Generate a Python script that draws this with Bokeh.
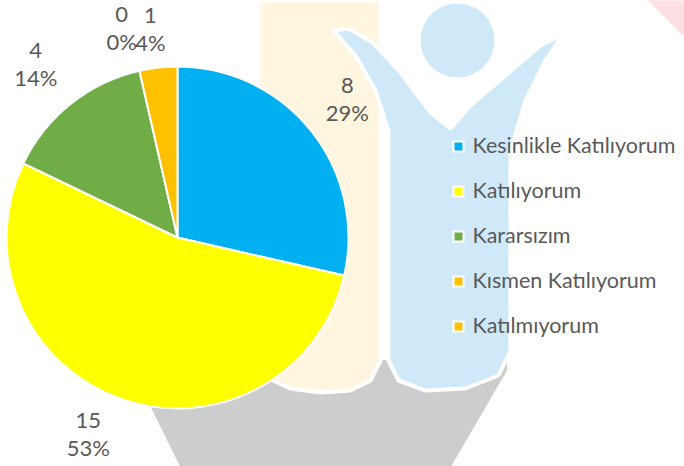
import math
from bokeh.plotting import figure
from bokeh.models import ColumnDataSource, Range1d
from bokeh.core.properties import value
from bokeh.embed import file_html
from bokeh.resources import INLINE

# ---- data ----
categories = ["Kesinlikle Katılıyorum", "Katılıyorum", "Kararsızım",
              "Kısmen Katılıyorum", "Katılmıyorum"]
counts = [8, 15, 4, 0, 1]
pct_labels = ["29%", "53%", "14%", "0%", "4%"]
colors = ["#00B0F0", "#FFFF00", "#70AD47", "#FFC000", "#FFC000"]

# label layout tweaks (distance from centre, angular nudge in degrees)
label_radius = [219, 216, 224, 216, 210]
label_nudge = [0.6, -5.1, 0.7, 2.1, 1.0]

W, H = 684, 466
FONT = "Lato"
TXT = "#595959"
FS = "22px"

p = figure(width=W, height=H, output_backend="svg", toolbar_location=None,
           x_range=Range1d(0, W), y_range=Range1d(0, H), min_border=0)
p.axis.visible = False
p.grid.visible = False
p.outline_line_color = None
p.background_fill_color = "white"


def fy(ys):
    return [H - v for v in ys]


# ---- faint background watermark (decoration) ----
p.patch([150, 180, 450, 506, 506, 150],
        fy([405, 466, 466, 370, 360, 360]), color="#CDCDCD")
p.patch([258, 380, 380, 370, 350, 320, 290, 268, 258],
        fy([0, 0, 360, 380, 390, 392, 388, 378, 360]),
        color="#FEF6DE", line_color="white", line_width=4)
p.patch([333, 355, 375, 388, 388, 398, 425, 465, 498, 510, 510, 525, 545,
         563, 540, 505, 470, 450, 430, 400, 372, 348],
        fy([30, 55, 90, 130, 360, 380, 390, 388, 375, 350, 150, 100, 60,
            33, 45, 75, 105, 128, 112, 72, 42, 28]),
        color="#CFE9F9", line_color="white", line_width=4)
p.scatter([457], fy([40]), size=74, color="#CFE9F9", line_color=None)
p.patch([648, 684, 684], fy([0, 0, 36]), color="#FDE0E3")

# ---- pie ----
total = sum(counts)
cx, cy, r = 177, 229, 171
starts, ends, mids, wcol = [], [], [], []
a = math.pi / 2
for c, col in zip(counts, colors):
    span = 2 * math.pi * c / total
    mids.append(a - span / 2)
    if c > 0:
        starts.append(a - span)
        ends.append(a)
        wcol.append(col)
    a -= span

src = ColumnDataSource(dict(start=starts, end=ends, color=wcol,
                            x=[cx] * len(wcol), y=[cy] * len(wcol)))
p.wedge(x="x", y="y", radius=r, start_angle="start", end_angle="end",
        fill_color="color", line_color="white", line_width=2, source=src)

# ---- data labels ----
ang = [m + math.radians(n) for m, n in zip(mids, label_nudge)]
lx = [cx + lr * math.cos(t) for lr, t in zip(label_radius, ang)]
ly = [cy + lr * math.sin(t) for lr, t in zip(label_radius, ang)]
lsrc = ColumnDataSource(dict(x=lx, y=ly, v=[str(c) for c in counts],
                             pct=pct_labels))
p.text(x="x", y="y", text="v", source=lsrc, text_align="center",
       text_baseline="middle", y_offset=-14, text_font=value(FONT),
       text_font_size=FS, text_color=TXT)
p.text(x="x", y="y", text="pct", source=lsrc, text_align="center",
       text_baseline="middle", y_offset=13, text_font=value(FONT),
       text_font_size=FS, text_color=TXT)

# ---- legend ----
leg_y = fy([146, 191, 236, 281, 326])
legsrc = ColumnDataSource(dict(x=[458] * len(categories), y=leg_y,
                               color=colors, label=categories))
p.scatter(x="x", y="y", marker="square", size=12, fill_color="white",
          line_color=None, source=legsrc)
p.scatter(x="x", y="y", marker="square", size=8, fill_color="color",
          line_color=None, source=legsrc)
p.text(x="x", y="y", text="label", source=legsrc, x_offset=14, y_offset=-2,
       text_align="left", text_baseline="middle", text_font=value(FONT),
       text_font_size="21.5px", text_color=TXT)

open("out.html", "w").write(file_html(p, INLINE))
